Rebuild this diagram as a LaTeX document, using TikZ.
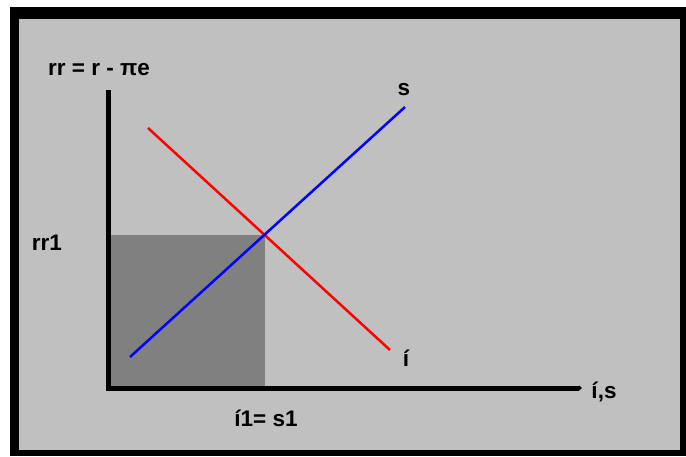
\documentclass[tikz,border=0pt]{standalone}
\usepackage{fontspec}
\setmainfont{Liberation Sans}
\usetikzlibrary{arrows.meta}
\definecolor{bggray}{HTML}{C0C0C0}
\definecolor{boxgray}{HTML}{808080}
\tikzset{
  lbl/.style={font=\fontsize{22.5}{26}\selectfont\bfseries, inner sep=0pt, text=black},
  axis/.style={line width=5pt},
  curve/.style={line width=2.5pt},
}
\begin{document}
\begin{tikzpicture}[x=1pt,y=-1pt]
\useasboundingbox (0,0) rectangle (686,456);
\fill[white] (0,0) rectangle (686,456);
\fill[black] (10,7) rectangle (686,456);
\fill[bggray] (19,19) rectangle (680,450);
% equilibrium box
\coordinate (eq) at (265,235);
\coordinate (o) at (108,388);
\fill[boxgray] (110,235) rectangle (265,388);
% curves
\coordinate (s0) at (130,357);
\coordinate (s1) at (405,107);
\coordinate (i0) at (148,128);
\coordinate (i1) at (390,350);
\draw[curve, red] (i0) -- (i1);
\draw[curve, blue] (s0) -- (s1);
% axes
\coordinate (ytop) at (108,90);
\coordinate (xend) at (582,388);
\draw[axis] (ytop) -- (108,390.5);
\draw[axis, -{Triangle[length=3pt,width=5pt]}] (105.5,388) -- (xend);
% labels
\node[lbl] (ylab) at (99,70) {rr = r - πe};
\node[lbl] (slab) at (404,90) {s};
\node[lbl] (rr1) at (47,243) {rr1};
\node[lbl] (ilab) at (406,358) {í};
\node[lbl] (xlab) at (604,392) {í,s};
\node[lbl] (eqlab) at (266,418) {í1= s1};
\end{tikzpicture}
\end{document}
